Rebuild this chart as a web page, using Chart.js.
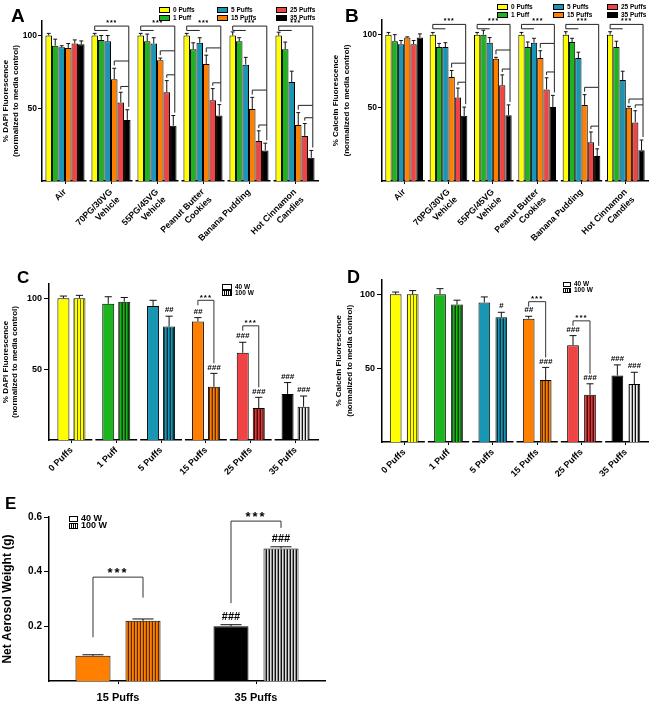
<!DOCTYPE html>
<html>
<head>
<meta charset="utf-8">
<script src="https://cdn.jsdelivr.net/npm/chart.js@4.4.1/dist/chart.umd.min.js"></script>
<style>
  body { margin: 0; background: #fff; width: 658px; height: 708px; position: relative; overflow: hidden;
         font-family: "Liberation Sans", Arial, sans-serif; }
  canvas { position: absolute; display: block; }
  .let { position: absolute; font-weight: bold; line-height: 1; }
  .lg { position: absolute; font-weight: bold; line-height: 1; white-space: nowrap; display: flex; align-items: center; }
  .sw { display: inline-block; box-sizing: border-box; border: 1px solid #000; margin-right: 3px; }
</style>
</head>
<body>
<canvas id="cA" width="330" height="250" style="left:0;top:0"></canvas>
<canvas id="cB" width="328" height="250" style="left:330px;top:0"></canvas>
<canvas id="cC" width="330" height="228" style="left:0;top:260px"></canvas>
<canvas id="cD" width="328" height="228" style="left:330px;top:260px"></canvas>
<canvas id="cE" width="340" height="218" style="left:0;top:490px"></canvas>

<div class="let" style="left:11px;top:6px;font-size:19px">A</div>
<div class="let" style="left:345px;top:6px;font-size:19px">B</div>
<div class="let" style="left:17px;top:269px;font-size:17px">C</div>
<div class="let" style="left:347px;top:268px;font-size:18px">D</div>
<div class="let" style="left:5px;top:495px;font-size:17px">E</div>

<script>
// panels A / B : six e-liquid groups, six puff levels
const groups = ['Air', ['70PG/30VG', 'Vehicle'], ['55PG/45VG', 'Vehicle'], ['Peanut Butter', 'Cookies'], 'Banana Pudding', ['Hot Cinnamon', 'Candies']];
const puffLabels = ['0 Puffs', '1 Puff', '5 Puffs', '15 Puffs', '25 Puffs', '35 Puffs'];

const dapi = [
  [100, 100, 100, 100, 100, 100],
  [93, 97, 96, 90.5, 96, 90.5],
  [92, 96, 94.5, 95, 80, 68],
  [91.5, 70, 83, 80.5, 49.5, 38.5],
  [94.5, 54, 61, 55.5, 27.5, 31],
  [94, 42, 38, 45, 21, 16]
];
const dapiErr = [
  [1.5, 1.5, 1.5, 1.5, 2.5, 2.3],
  [4.5, 3, 5, 4.5, 2.5, 5],
  [1, 4, 4, 3.5, 5, 7.5],
  [3, 7.5, 1.5, 6, 8, 8.5],
  [2.5, 7, 8, 8, 7, 8.5],
  [2.3, 7, 7, 7.5, 5, 5]
];
const calcein = [
  [100, 100, 100, 100, 100, 100],
  [95.5, 91.5, 100, 91.5, 95, 91.5],
  [93.5, 91.5, 94.5, 94.5, 84, 69],
  [98, 71, 83.5, 84, 52, 50],
  [93.5, 57, 65.5, 62.5, 26.5, 40],
  [98, 44.5, 45, 50.5, 17, 21]
];
const calceinErr = [
  [1.5, 1.5, 1.5, 1.5, 2, 2],
  [4.5, 2.5, 3, 3.5, 2.5, 4],
  [2.5, 3, 3.5, 3, 4, 6],
  [0.5, 4.5, 1, 5, 7, 1],
  [2.5, 6.5, 7, 8, 7, 8],
  [2.5, 6, 7, 8, 5, 7]
];

// panels C / D : 40 W vs 100 W per puff level
const dapi40 = [100, 96, 94.5, 83.5, 61.5, 32.5];
const dapi40Err = [1.5, 5, 4, 2.8, 7.4, 8];
const dapi100 = [100, 97.5, 80, 37.5, 22.5, 23.5];
const dapi100Err = [2, 3, 7.3, 9.5, 7.6, 7.5];
const dapiHash40 = ['', '', '', '##', '###', '###'];
const dapiHash100 = ['', '', '##', '###', '###', '###'];
const dapiStars = [{ cat: 3, y: 98.5 }, { cat: 4, y: 80.5 }];

const calc40 = [100, 100, 94.5, 83.5, 65.5, 45];
const calc40Err = [1.5, 3.8, 3.7, 1.6, 6.5, 7.2];
const calc100 = [100, 93, 84.5, 42, 32, 39.2];
const calc100Err = [2.5, 3, 3.3, 8.5, 7.4, 8];
const calcHash40 = ['', '', '', '##', '###', '###'];
const calcHash100 = ['', '', '#', '###', '###', '###'];
const calcStars = [{ cat: 3, y: 95 }, { cat: 4, y: 82 }];

// panel E : aerosol weight
const weightCats = ['15 Puffs', '35 Puffs'];
const weight40 = [0.092, 0.2];
const weight40Err = [0.004, 0.006];
const weight100 = [0.22, 0.485];
const weight100Err = [0.007, 0.006];
const weightHash40 = ['', '###'];
const weightHash100 = ['', '###'];
const weightStars = [{ cat: 0, y: 0.38, l: 0.16, r: 0.305 }, { cat: 1, y: 0.585, l: 0.285, r: 0.56 }];

const puffColors = ['#ffff00', '#1db51d', '#1896b4', '#ff8000', '#f04444', '#000000'];
const stripeCols = [
  ['#ffff00', '#ffff00', '#6e6e00'],
  ['#1db51d', '#108010', '#053d05'],
  ['#1896b4', '#0f6e86', '#04323e'],
  ['#ff8000', '#c86000', '#5a2a00'],
  ['#d83a3a', '#a82020', '#4a0808'],
  ['#eeeeee', '#aaaaaa', '#111111']
];

Chart.defaults.font.family = '"Liberation Sans", Arial, sans-serif';
Chart.defaults.color = '#000';

function stripes(cols) {
  const c = document.createElement('canvas');
  c.width = cols.length; c.height = 4;
  const g = c.getContext('2d');
  cols.forEach((col, i) => { g.fillStyle = col; g.fillRect(i, 0, 1, 4); });
  return g.createPattern(c, 'repeat');
}

const errPlugin = {
  id: 'err',
  afterDatasetsDraw(chart) {
    const ctx = chart.ctx, ys = chart.scales.y;
    ctx.save();
    ctx.strokeStyle = '#111';
    ctx.lineWidth = 1;
    chart.data.datasets.forEach((ds, i) => {
      if (!ds.errors) return;
      chart.getDatasetMeta(i).data.forEach((bar, j) => {
        const top = ys.getPixelForValue(ds.data[j] + ds.errors[j]);
        const w = Math.max(1.5, bar.width * 0.3);
        ctx.beginPath();
        ctx.moveTo(bar.x, bar.y); ctx.lineTo(bar.x, top);
        ctx.moveTo(bar.x - w, top); ctx.lineTo(bar.x + w, top);
        ctx.stroke();
      });
    });
    ctx.restore();
  }
};
Chart.register(errPlugin);

// broken x axis like the original figure
const gapPlugin = {
  id: 'gaps',
  afterDraw(chart) {
    const xs = chart.scales.x, ctx = chart.ctx;
    ctx.save();
    ctx.fillStyle = '#fff';
    for (let i = 0; i < xs.ticks.length - 1; i++) {
      const bx = (xs.getPixelForTick(i) + xs.getPixelForTick(i + 1)) / 2;
      ctx.fillRect(bx - 1.5, xs.top - 1.5, 3, 3);
    }
    ctx.restore();
  }
};

function treePlugin(vals, errs, top) {
  return {
    id: 'tree',
    afterDatasetsDraw(chart) {
      const ctx = chart.ctx, y = chart.scales.y;
      const P = v => y.getPixelForValue(v);
      const bx = (k, g) => chart.getDatasetMeta(k).data[g].x;
      ctx.save();
      ctx.strokeStyle = '#222';
      ctx.lineWidth = 1;
      ctx.fillStyle = '#000';
      ctx.font = 'bold 7px "Liberation Sans", Arial';
      ctx.textAlign = 'center';
      ctx.textBaseline = 'bottom';
      try { ctx.letterSpacing = '1px'; } catch (e) {}
      for (let g = 1; g < vals[0].length; g++) {
        const t = k => vals[k][g] + errs[k][g];
        const x0 = bx(0, g), x2 = bx(2, g), x3 = bx(3, g), x4 = bx(4, g), x5 = bx(5, g);
        const xr = x5 + 1.5;
        const L1 = P(top), Ls = P(top - 3);
        const L2 = P(Math.max(t(3), t(4), t(5)) + 5);
        const L3 = P(Math.max(t(4), t(5)) + 4);
        ctx.beginPath();
        ctx.moveTo(x2, Ls); ctx.lineTo(x0, Ls); ctx.lineTo(x0, L1); ctx.lineTo(xr, L1); ctx.lineTo(xr, L2);
        ctx.moveTo(x3, P(t(3) + 2)); ctx.lineTo(x3, L2); ctx.lineTo(xr, L2); ctx.lineTo(xr, L3);
        ctx.moveTo(x4, P(t(4) + 2)); ctx.lineTo(x4, L3); ctx.lineTo(xr, L3); ctx.lineTo(xr, P(t(5) + 2));
        ctx.stroke();
        ctx.fillText('***', (x0 + xr) / 2, L1 + 0.5);
      }
      ctx.restore();
    }
  };
}

function pairPlugin(h40, h100, stars, o) {
  return {
    id: 'pairs',
    afterDatasetsDraw(chart) {
      const ctx = chart.ctx, y = chart.scales.y;
      const P = v => y.getPixelForValue(v);
      const ds = chart.data.datasets;
      const bar = (k, c) => chart.getDatasetMeta(k).data[c];
      const topOf = (k, c) => ds[k].data[c] + ds[k].errors[c];
      ctx.save();
      ctx.fillStyle = '#000';
      ctx.textAlign = 'center';
      ctx.textBaseline = 'bottom';
      ctx.font = o.hashFont;
      [h40, h100].forEach((hs, k) => hs.forEach((h, c) => {
        if (h) ctx.fillText(h, bar(k, c).x, P(topOf(k, c)) - 2);
      }));
      ctx.strokeStyle = '#333';
      ctx.lineWidth = 1;
      ctx.font = o.starFont;
      try { ctx.letterSpacing = o.spacing; } catch (e) {}
      stars.forEach(s => {
        const xa = bar(0, s.cat).x, xb = bar(1, s.cat).x, ly = P(s.y);
        const la = s.l !== undefined ? P(s.l) : ly + 5;
        const lb = s.r !== undefined ? P(s.r) : P(topOf(1, s.cat)) - 10;
        ctx.beginPath();
        ctx.moveTo(xa, la); ctx.lineTo(xa, ly); ctx.lineTo(xb, ly); ctx.lineTo(xb, lb);
        ctx.stroke();
        ctx.fillText('***', (xa + xb) / 2, ly - 1 + o.starLift);
      });
      ctx.restore();
    }
  };
}

function barChart(id, labels, datasets, o, plugins) {
  return new Chart(document.getElementById(id), {
    type: 'bar',
    data: { labels, datasets },
    options: {
      responsive: false,
      animation: false,
      layout: { padding: { left: 0, top: o.top, right: o.right, bottom: 0 } },
      plugins: { legend: { display: false }, tooltip: { enabled: false } },
      scales: {
        x: {
          grid: { display: true, drawOnChartArea: false, offset: false, tickLength: 3, color: '#000' },
          border: { color: '#000', width: 1.5 },
          ticks: { font: { size: o.xFont, weight: 'bold' }, maxRotation: o.rot, minRotation: o.rot, autoSkip: false, padding: o.xPad },
          afterFit: s => { s.height = o.xH; }
        },
        y: {
          min: 0, max: o.max,
          grid: { drawOnChartArea: false, tickLength: o.tl, color: '#000' },
          border: { color: '#000', width: 1.5 },
          ticks: { font: { size: o.yFont, weight: 'bold' }, padding: o.yPad, callback: o.fmt },
          afterBuildTicks: s => { s.ticks = o.ticks.map(v => ({ value: v })); },
          title: { display: true, text: o.title, font: { size: o.tFont, weight: 'bold', lineHeight: o.tLh }, padding: { top: o.tPad, bottom: 0 } },
          afterFit: s => { s.width = o.yW; }
        }
      }
    },
    plugins
  });
}

function puffSets(vals, errs) {
  return puffLabels.map((lab, k) => ({
    label: lab, data: vals[k], errors: errs[k],
    backgroundColor: puffColors[k], borderColor: '#000', borderWidth: 1,
    categoryPercentage: 0.85, barPercentage: 1
  }));
}

function wattSets(v40, e40, v100, e100, fill40, fill100, cat, bar) {
  return [
    { label: '40 W', data: v40, errors: e40, backgroundColor: fill40, borderColor: '#000', borderWidth: 1, categoryPercentage: cat, barPercentage: bar },
    { label: '100 W', data: v100, errors: e100, backgroundColor: fill100, borderColor: '#000', borderWidth: 1, categoryPercentage: cat, barPercentage: bar }
  ];
}

const plain = v => v;
const stripeFills = stripeCols.map(stripes);

barChart('cA', groups, puffSets(dapi, dapiErr), {
  top: 21, right: 12, max: 110, ticks: [50, 100], fmt: plain, yW: 42, xH: 69, tl: 4, yPad: 1,
  xFont: 8.8, yFont: 8.5, rot: 45, xPad: 3,
  title: ['% DAPI Fluorescence', '(normalized to media control)'], tFont: 8, tLh: 1.31, tPad: 0.3
}, [gapPlugin, treePlugin(dapi, dapiErr, 106.5)]);

barChart('cB', groups, puffSets(calcein, calceinErr), {
  top: 20, right: 10, max: 110, ticks: [50, 100], fmt: plain, yW: 52, xH: 69, tl: 4, yPad: 1,
  xFont: 8.8, yFont: 8.5, rot: 45, xPad: 3,
  title: ['% Calcein Fluorescence', '(normalized to media control)'], tFont: 8, tLh: 1.37, tPad: 0
}, [gapPlugin, treePlugin(calcein, calceinErr, 107)]);

barChart('cC', puffLabels, wattSets(dapi40, dapi40Err, dapi100, dapi100Err, puffColors, stripeFills, 0.714, 0.75), {
  top: 24, right: 12, max: 110, ticks: [50, 100], fmt: plain, yW: 49, xH: 48, tl: 5, yPad: 2,
  xFont: 9, yFont: 9, rot: 45, xPad: 2,
  title: ['% DAPI Fluorescence', '(normalized to media control)'], tFont: 8, tLh: 1.13, tPad: 1
}, [gapPlugin, pairPlugin(dapiHash40, dapiHash100, dapiStars, { hashFont: 'italic bold 8px "Liberation Sans", Arial', starFont: 'bold 8px "Liberation Sans", Arial', spacing: '1px', starLift: 2 })]);

barChart('cD', puffLabels, wattSets(calc40, calc40Err, calc100, calc100Err, puffColors, stripeFills, 0.766, 0.69), {
  top: 19.5, right: 10, max: 110, ticks: [50, 100], fmt: plain, yW: 52, xH: 46, tl: 5, yPad: 2,
  xFont: 9, yFont: 9, rot: 45, xPad: 2,
  title: ['% Calcein Fluorescence', '(normalized to media control)'], tFont: 8, tLh: 1.44, tPad: 2.75
}, [gapPlugin, pairPlugin(calcHash40, calcHash100, calcStars, { hashFont: 'italic bold 8px "Liberation Sans", Arial', starFont: 'bold 8px "Liberation Sans", Arial', spacing: '1px', starLift: 2 })]);

barChart('cE', weightCats, wattSets(weight40, weight40Err, weight100, weight100Err,
  [puffColors[3], puffColors[5]],
  [stripes(['#ff8000', '#e07000', '#5a2a00']), stripes(['#dddddd', '#888888', '#111111'])], 0.725, 0.7), {
  top: 27, right: 15, max: 0.6, ticks: [0.2, 0.4, 0.6], fmt: v => v.toFixed(1), yW: 49, xH: 27, tl: 5, yPad: 2,
  xFont: 11, yFont: 10, rot: 0, xPad: 7,
  title: 'Net Aerosol Weight (g)', tFont: 12, tLh: 1.2, tPad: 0
}, [pairPlugin(weightHash40, weightHash100, weightStars, { hashFont: 'bold 11px "Liberation Sans", Arial', starFont: 'bold 13px "Liberation Sans", Arial', spacing: '2px', starLift: 4 })]);

// legends
function puffLegend(xs, ys) {
  puffLabels.forEach((lab, k) => {
    const d = document.createElement('div');
    d.className = 'lg';
    d.style.left = xs[Math.floor(k / 2)] + 'px';
    d.style.top = ys[k % 2] + 'px';
    d.style.fontSize = '6.5px';
    d.innerHTML = '<span class="sw" style="width:11px;height:6px;background:' + puffColors[k] + '"></span>' + lab;
    document.body.appendChild(d);
  });
}
puffLegend([159, 217, 276], [7, 15]);
puffLegend([497, 553, 607], [4, 12]);

function wattLegend(x, ys, w, h, size) {
  const fills = ['#fff', 'repeating-linear-gradient(90deg,#fff 0 1px,#000 1px 2px)'];
  ['40 W', '100 W'].forEach((lab, k) => {
    const d = document.createElement('div');
    d.className = 'lg';
    d.style.left = x + 'px';
    d.style.top = ys[k] + 'px';
    d.style.fontSize = size + 'px';
    d.innerHTML = '<span class="sw" style="width:' + w + 'px;height:' + h + 'px;background:' + fills[k] + '"></span>' + lab;
    document.body.appendChild(d);
  });
}
wattLegend(222, [284, 290], 10, 6, 6.5);
wattLegend(563, [281, 287], 8, 5, 6.5);
wattLegend(69, [514, 521], 9, 6, 9);
</script>
</body>
</html>
